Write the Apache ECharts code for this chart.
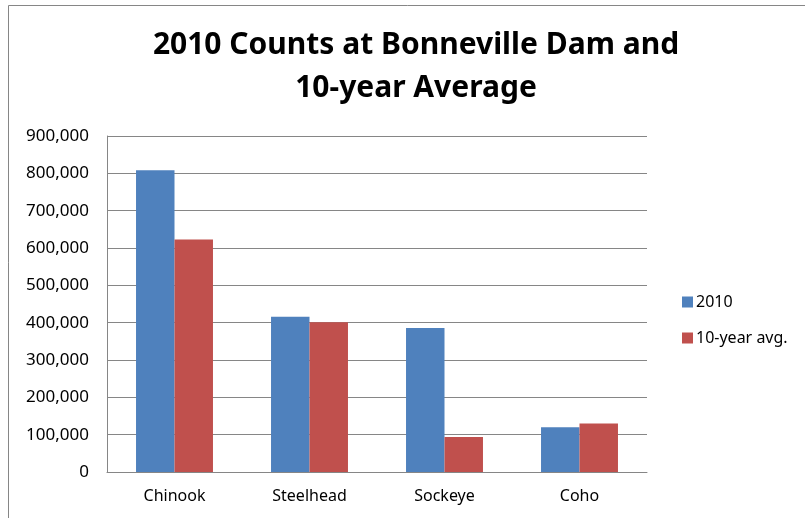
<!DOCTYPE html>
<html>
<head>
<meta charset="utf-8">
<script src="https://cdn.jsdelivr.net/npm/echarts@6/dist/echarts.min.js"></script>
<style>
  html, body { margin: 0; padding: 0; background: #fff; }
  #chart { width: 805px; height: 518px; }
</style>
</head>
<body>
<div id="chart"></div>
<script>
// Fish counts at Bonneville Dam
const categories = ['Chinook', 'Steelhead', 'Sockeye', 'Coho'];
const counts2010 = [808000, 416000, 386000, 120000];
const tenYearAvg = [623000, 401000, 94000, 130000];
const seriesNames = ['2010', '10-year avg.'];

const FONT = '"Noto Sans", "Open Sans", sans-serif';

const chart = echarts.init(document.getElementById('chart'), null, { renderer: 'canvas' });

chart.setOption({
  animation: false,
  backgroundColor: '#ffffff',
  graphic: [{
    type: 'rect',
    shape: { x: 8.5, y: 5.5, width: 900, height: 600 },
    style: { fill: 'none', stroke: '#868686', lineWidth: 1 },
    silent: true
  }],
  title: {
    text: '2010 Counts at Bonneville Dam and\n10-year Average',
    left: 411,
    textAlign: 'center',
    top: 19,
    textStyle: {
      fontFamily: FONT,
      fontWeight: 'bold',
      fontSize: 30,
      lineHeight: 43,
      color: '#000'
    }
  },
  legend: {
    orient: 'vertical',
    left: 677,
    top: 289,
    itemGap: 20,
    itemWidth: 11,
    itemHeight: 11,
    icon: 'rect',
    textStyle: { fontFamily: FONT, fontSize: 16, color: '#000', padding: [0, 0, 0, -2] },
    data: seriesNames
  },
  grid: { left: 107, right: 158, top: 136, bottom: 46, containLabel: false },
  xAxis: {
    type: 'category',
    data: categories,
    axisLine: { show: true, lineStyle: { color: '#868686', width: 1 } },
    axisTick: { show: false },
    axisLabel: { fontFamily: FONT, fontSize: 16, color: '#000', margin: 16 }
  },
  yAxis: {
    type: 'value',
    min: 0,
    max: 900000,
    interval: 100000,
    axisLine: { show: true, lineStyle: { color: '#868686', width: 1 } },
    axisTick: { show: false },
    splitLine: { lineStyle: { color: '#868686', width: 1 } },
    axisLabel: {
      fontFamily: FONT,
      fontSize: 17,
      color: '#000',
      margin: 18,
      formatter: v => v.toLocaleString('en-US')
    }
  },
  series: [
    {
      name: seriesNames[0],
      type: 'bar',
      data: counts2010,
      barGap: '0%',
      barCategoryGap: '43%',
      itemStyle: { color: '#4F81BD' }
    },
    {
      name: seriesNames[1],
      type: 'bar',
      data: tenYearAvg,
      itemStyle: { color: '#C0504D' }
    }
  ]
});
</script>
</body>
</html>
